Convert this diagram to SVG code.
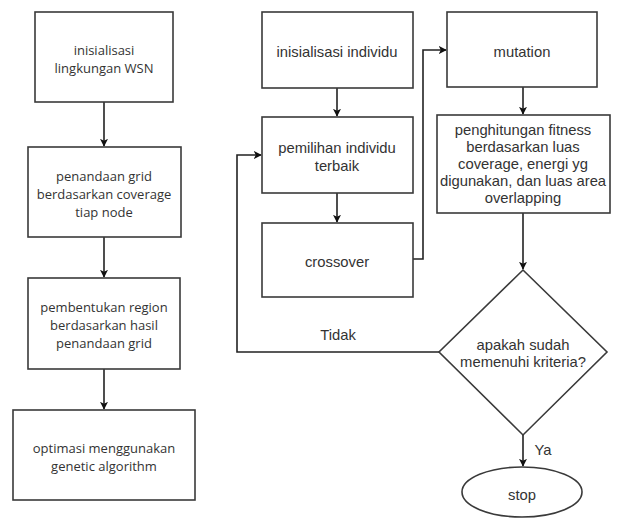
<svg xmlns="http://www.w3.org/2000/svg" width="617" height="518" viewBox="0 0 617 518">
  <style>
    .box { fill: #ffffff; stroke: #3a3a3a; stroke-width: 1.6; }
    .edge { fill: none; stroke: #222222; stroke-width: 1.6; }
    .tl { font-family: "Open Sans", "DejaVu Sans", sans-serif; font-size: 13px; fill: #333333; text-anchor: middle; }
    .tr { font-family: "Liberation Sans", Arial, sans-serif; font-size: 14.8px; fill: #333333; text-anchor: middle; }
  </style>
  <defs>
    <marker id="arrow" viewBox="0 0 10 10" refX="9" refY="5" markerWidth="8" markerHeight="8" markerUnits="userSpaceOnUse" orient="auto">
      <path d="M0,0 L10,5 L0,10 L2.5,5 Z" fill="#111111"/>
    </marker>
  </defs>
  <rect width="617" height="518" fill="#ffffff"/>

  <!-- connectors -->
  <g id="connectors">
    <line class="edge" x1="104" y1="102" x2="104" y2="146" marker-end="url(#arrow)"/>
    <line class="edge" x1="104" y1="237" x2="104" y2="277" marker-end="url(#arrow)"/>
    <line class="edge" x1="104" y1="369" x2="104" y2="409" marker-end="url(#arrow)"/>
    <line class="edge" x1="337" y1="88" x2="337" y2="116" marker-end="url(#arrow)"/>
    <line class="edge" x1="337" y1="193" x2="337" y2="222" marker-end="url(#arrow)"/>
    <polyline class="edge" points="413,259 423,259 423,50 446,50" marker-end="url(#arrow)"/>
    <line class="edge" x1="523" y1="87" x2="523" y2="114" marker-end="url(#arrow)"/>
    <line class="edge" x1="523" y1="213" x2="523" y2="269" marker-end="url(#arrow)"/>
    <polyline class="edge" points="439,352 237,352 237,155 261,155" marker-end="url(#arrow)"/>
    <line class="edge" x1="523" y1="435" x2="523" y2="466" marker-end="url(#arrow)"/>
    <text class="tr" x="338" y="340">Tidak</text>
    <text class="tr" x="543" y="455">Ya</text>
  </g>

  <!-- left column -->
  <g id="init-wsn">
    <rect class="box" x="35" y="12" width="138" height="90"/>
    <text class="tl" x="104" y="55">inisialisasi</text>
    <text class="tl" x="104" y="73">lingkungan WSN</text>
  </g>
  <g id="grid-marking">
    <rect class="box" x="28" y="147" width="153" height="90"/>
    <text class="tl" x="104" y="181">penandaan grid</text>
    <text class="tl" x="104" y="199">berdasarkan coverage</text>
    <text class="tl" x="104" y="217">tiap node</text>
  </g>
  <g id="region-forming">
    <rect class="box" x="28" y="278" width="152" height="91"/>
    <text class="tl" x="104" y="312">pembentukan region</text>
    <text class="tl" x="104" y="330">berdasarkan hasil</text>
    <text class="tl" x="104" y="348">penandaan grid</text>
  </g>
  <g id="ga-optimization">
    <rect class="box" x="13" y="410" width="182" height="90"/>
    <text class="tl" x="104" y="453">optimasi menggunakan</text>
    <text class="tl" x="104" y="471">genetic algorithm</text>
  </g>

  <!-- genetic algorithm loop -->
  <g id="init-individual">
    <rect class="box" x="262" y="12" width="151" height="76"/>
    <text class="tr" x="337" y="57">inisialisasi individu</text>
  </g>
  <g id="selection">
    <rect class="box" x="262" y="117" width="151" height="76"/>
    <text class="tr" x="337" y="153">pemilihan individu</text>
    <text class="tr" x="337" y="171">terbaik</text>
  </g>
  <g id="crossover">
    <rect class="box" x="262" y="223" width="151" height="74"/>
    <text class="tr" x="337" y="267">crossover</text>
  </g>
  <g id="mutation">
    <rect class="box" x="447" y="12" width="150" height="75"/>
    <text class="tr" x="522" y="57">mutation</text>
  </g>
  <g id="fitness">
    <rect class="box" x="437" y="115" width="173" height="98"/>
    <text class="tr" x="523" y="135">penghitungan fitness</text>
    <text class="tr" x="523" y="152">berdasarkan luas</text>
    <text class="tr" x="523" y="169">coverage, energi yg</text>
    <text class="tr" x="523" y="186">digunakan, dan luas area</text>
    <text class="tr" x="523" y="203">overlapping</text>
  </g>
  <g id="criteria">
    <polygon class="box" points="523,270 607,352 523,435 439,352"/>
    <text class="tr" x="523" y="350">apakah sudah</text>
    <text class="tr" x="523" y="367">memenuhi kriteria?</text>
  </g>
  <g id="stop">
    <ellipse class="box" cx="522" cy="492" rx="60" ry="25"/>
    <text class="tr" x="522" y="500">stop</text>
  </g>
</svg>
